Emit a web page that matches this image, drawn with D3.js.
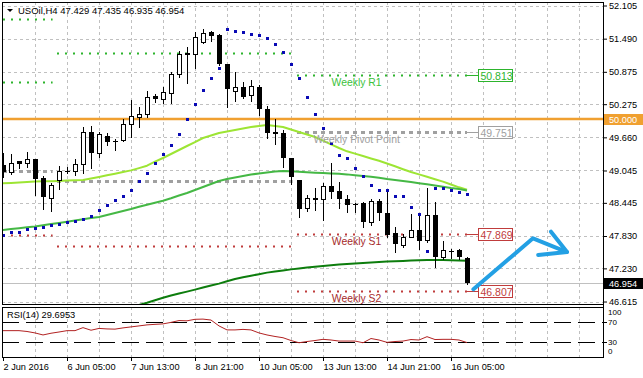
<!DOCTYPE html>
<html>
<head>
<meta charset="utf-8">
<script src="https://cdn.jsdelivr.net/npm/d3@7"></script>
<style>
  body { margin: 0; background: #fff; overflow: hidden; }
  svg { display: block; }
  text { font-family: "Liberation Sans", Arial, sans-serif; }
</style>
</head>
<body>
<div id="chart"></div>
<script>
// ---- data ----
const priceTicks = [52.105, 51.490, 50.875, 50.275, 49.660, 49.045, 48.445, 47.830, 47.230, 46.615];
const timeLabels = ["2 Jun 2016", "6 Jun 05:00", "7 Jun 13:00", "8 Jun 21:00", "10 Jun 05:00", "13 Jun 13:00", "14 Jun 21:00", "16 Jun 05:00"];

const opens = [49.147, 49.023, 49.221, 49.190, 49.253, 48.900, 48.529, 48.869, 49.041, 49.041,
  49.160, 49.753, 49.364, 49.685, 49.579, 49.611, 49.902, 50.043, 50.087, 50.427,
  50.377, 50.477, 50.829, 51.219, 51.200, 51.423, 51.608, 51.552, 51.020, 50.525,
  50.588, 50.440, 50.588, 50.185, 49.768, 49.735, 49.271, 48.869, 48.344, 48.535,
  48.511, 48.757, 48.665, 48.516, 48.418, 48.442, 48.099, 48.479, 48.251, 47.880,
  47.669, 47.817, 47.941, 47.747, 48.220, 47.435, 47.552, 47.571, 47.429];
const highs = [49.369, 49.351, 49.225, 49.388, 49.260, 48.943, 48.819, 49.134, 49.115, 49.253,
  49.846, 49.870, 49.753, 49.735, 49.635, 49.994, 50.352, 50.217, 50.519, 50.464,
  50.599, 50.877, 51.267, 51.330, 51.608, 51.664, 51.638, 51.576, 51.025, 50.877,
  50.686, 50.723, 50.631, 50.241, 49.994, 49.796, 49.277, 48.869, 48.591, 48.715,
  48.813, 49.184, 48.837, 48.591, 48.437, 48.466, 48.511, 48.511, 48.646, 48.003,
  47.867, 48.229, 48.238, 48.715, 48.466, 47.737, 47.589, 47.580, 47.435];
const lows = [48.924, 48.980, 49.097, 49.115, 48.591, 48.325, 48.299, 48.696, 49.004, 48.956,
  49.004, 49.097, 49.301, 49.518, 49.425, 49.598, 49.661, 49.846, 50.043, 50.321,
  50.302, 50.302, 50.773, 50.673, 50.951, 51.415, 51.452, 51.010, 50.228, 50.339,
  50.389, 50.339, 50.074, 49.642, 49.536, 49.115, 48.789, 48.188, 48.294, 48.312,
  48.127, 48.529, 48.344, 48.266, 48.266, 48.003, 48.034, 48.127, 47.817, 47.539,
  47.621, 47.806, 47.580, 47.724, 47.261, 47.398, 47.422, 47.406, 46.935];
const closes = [49.017, 49.190, 49.171, 49.253, 48.893, 48.548, 48.776, 49.041, 49.035, 49.160,
  49.753, 49.364, 49.716, 49.579, 49.585, 49.902, 50.056, 50.087, 50.403, 50.371,
  50.506, 50.835, 51.200, 51.181, 51.515, 51.601, 51.545, 51.015, 50.551, 50.594,
  50.414, 50.606, 50.180, 49.746, 49.731, 49.271, 48.930, 48.340, 48.529, 48.498,
  48.752, 48.652, 48.511, 48.411, 48.413, 48.095, 48.479, 48.262, 47.849, 47.676,
  47.817, 47.941, 47.743, 48.220, 47.446, 47.571, 47.560, 47.435, 46.954];

const maFast = [48.807, 48.815, 48.824, 48.832, 48.839, 48.845, 48.847, 48.852, 48.858, 48.863,
  48.869, 48.897, 48.926, 48.956, 48.986, 49.017, 49.047, 49.089, 49.134, 49.208,
  49.277, 49.351, 49.425, 49.499, 49.573, 49.648, 49.694, 49.740, 49.768, 49.796,
  49.824, 49.852, 49.870, 49.889, 49.870, 49.852, 49.805, 49.759, 49.713, 49.666,
  49.598, 49.531, 49.462, 49.401, 49.358, 49.314, 49.269, 49.225, 49.175, 49.123,
  49.069, 49.017, 48.973, 48.928, 48.884, 48.839, 48.785, 48.733, 48.690];
const maMid = [47.941, 47.958, 47.975, 47.991, 48.008, 48.030, 48.053, 48.073, 48.095, 48.118,
  48.140, 48.164, 48.184, 48.220, 48.257, 48.294, 48.331, 48.372, 48.411, 48.448,
  48.485, 48.531, 48.581, 48.628, 48.683, 48.739, 48.795, 48.850, 48.887, 48.915,
  48.943, 48.971, 48.989, 49.008, 49.026, 49.036, 49.032, 49.023, 49.013, 49.004,
  48.998, 48.991, 48.984, 48.973, 48.958, 48.943, 48.928, 48.909, 48.887, 48.869,
  48.850, 48.832, 48.810, 48.789, 48.767, 48.745, 48.720, 48.702, 48.675];
const maSlow = [null, null, null, null, null, null, null, null, null, null,
  null, null, null, null, null, null, 46.504, 46.551, 46.593, 46.640,
  46.684, 46.727, 46.764, 46.799, 46.836, 46.875, 46.912, 46.947, 46.990, 47.033,
  47.064, 47.094, 47.122, 47.151, 47.172, 47.190, 47.211, 47.229, 47.244, 47.259,
  47.274, 47.289, 47.300, 47.311, 47.320, 47.330, 47.339, 47.348, 47.355, 47.363,
  47.368, 47.374, 47.379, 47.383, 47.385, 47.385, 47.381, 47.376, 47.372];
const sar = [47.849, 47.899, 47.910, 47.955, 47.979, 48.003, 48.040, 48.058, 48.095, 48.114,
  48.145, 48.201, 48.312, 48.405, 48.498, 48.572, 48.683, 48.856, 48.993, 49.184,
  49.351, 49.518, 49.722, 49.994, 50.278, 50.538, 50.757, 50.940, 51.667, 51.632,
  51.608, 51.576, 51.554, 51.508, 51.387, 51.239, 51.020, 50.757, 50.404, 50.093,
  49.837, 49.549, 49.332, 49.271, 49.086, 48.943, 48.776, 48.683, 48.683, 48.572,
  48.572, 48.363, 48.238, 47.552, 48.720, 48.720, 48.689, 48.652, 48.609];
const rsi = [52.6, 52.6, 52.6, 51.0, 48.2, 44.3, 47.6, 50.0, 52.6, 52.6,
  58.4, 53.4, 56.9, 55.9, 55.5, 57.9, 59.8, 61.7, 63.7, 64.7,
  65.6, 68.5, 72.0, 71.5, 74.4, 74.8, 73.0, 61.7, 54.0, 54.0,
  55.0, 54.0, 48.2, 44.3, 41.4, 39.0, 33.6, 29.3, 31.7, 33.6,
  35.9, 34.6, 32.6, 32.6, 32.6, 29.3, 37.5, 34.6, 30.1, 31.7,
  32.6, 35.5, 34.6, 41.0, 35.5, 35.9, 35.9, 34.6, 29.6953];
const rsiTicks = [100, 70, 30, 0];
const rsiLevels = [70, 30];

const roundLevel = 50.000;

// weekly pivot segments (candle index span per week)
const weekFrom = [-1, 6.75, 36.75];
const weekTo = [6.2, 36.2, 58];
const pivotPrice = [51.849, 50.681, 49.036, 47.849, 51.230, 48.856, 47.645, 50.813, 49.751, 47.869, 46.807];
const pivotKind = ["R", "R", "P", "S", "R", "P", "S", "R", "P", "S", "S"];
const pivotWeek = [0, 0, 0, 0, 1, 1, 1, 2, 2, 2, 2];
const weeklyNames = ["Weekly R1", "Weekly Pivot Point", "Weekly S1", "Weekly S2"];
const weeklyPrice = [50.813, 49.751, 47.869, 46.807];
const weeklyKind = ["R", "P", "S", "S"];

// hand drawn arrow, in candle index / price
const arrowIdx = [58.8, 66.25, 70.5];
const arrowPrice = [46.842, 47.787, 47.533];
const barbIdx = [68.5, 70.5, 66.9];
const barbPrice = [47.910, 47.533, 47.478];

// ---- layout ----
const W = 643, H = 378;
const padL = 2, padR = 603, plotTop = 2, mainBottom = 304, rsiTop = 307, rsiBottom = 357;
const font = '"Liberation Sans", Arial, sans-serif';

const colors = {
  grid: "#c0c0c0",
  R: "#2db42d", P: "#a0a0a0", S: "#c03c3c",
  Rtext: "#3cc23c", Ptext: "#a0a0a0", Stext: "#a52a2a",
  orange: "#f0a030", fast: "#9de534", mid: "#45b845", slow: "#0d7d0d",
  sar: "#0a0ab4", rsi: "#b22222", arrow: "#23a0e4"
};

const x = d3.scaleLinear().domain([0, 75]).range([3, 603]);
const y = d3.scaleLinear().domain([46.569, 52.170]).range([mainBottom, plotTop]);
const yRsi = d3.scaleLinear().domain([0, 100]).range([358, 306]);
const py = v => Math.round(y(v)) + 0.5;

const svg = d3.select("#chart").append("svg")
  .attr("width", W).attr("height", H)
  .style("background", "#fff");

svg.append("clipPath").attr("id", "mainClip")
  .append("rect").attr("x", padL + 1).attr("y", plotTop + 1)
  .attr("width", padR - padL - 1).attr("height", mainBottom - plotTop - 1);

// grid
const gridIdx = d3.range(4, 75, 4);
const grid = svg.append("g").attr("stroke", colors.grid).attr("stroke-dasharray", "3,3");
grid.selectAll(".vm").data(gridIdx).join("line")
  .attr("x1", d => x(d) + 0.5).attr("x2", d => x(d) + 0.5)
  .attr("y1", plotTop).attr("y2", mainBottom);
grid.selectAll(".vr").data(gridIdx).join("line")
  .attr("x1", d => x(d) + 0.5).attr("x2", d => x(d) + 0.5)
  .attr("y1", rsiTop).attr("y2", rsiBottom);
grid.selectAll(".h").data(priceTicks).join("line")
  .attr("x1", padL).attr("x2", padR)
  .attr("y1", d => py(d)).attr("y2", d => py(d));

const plot = svg.append("g").attr("clip-path", "url(#mainClip)");

// pivot lines
plot.append("g").selectAll("line").data(pivotPrice).join("line")
  .attr("x1", (d, i) => x(weekFrom[pivotWeek[i]]))
  .attr("x2", (d, i) => x(weekTo[pivotWeek[i]]))
  .attr("y1", d => py(d)).attr("y2", d => py(d))
  .attr("stroke", (d, i) => colors[pivotKind[i]])
  .attr("stroke-width", (d, i) => pivotKind[i] === "P" ? 3 : 2)
  .attr("stroke-dasharray", (d, i) => pivotKind[i] === "P" ? "4,4" : "2,6");

// round number line
plot.append("line")
  .attr("x1", padL).attr("x2", padR)
  .attr("y1", y(roundLevel)).attr("y2", y(roundLevel))
  .attr("stroke", colors.orange).attr("stroke-width", 2.5);

// bid line
const last = closes[closes.length - 1];
plot.append("line")
  .attr("x1", padL).attr("x2", padR)
  .attr("y1", py(last)).attr("y2", py(last))
  .attr("stroke", "#c0c0c0");

// moving averages
const maLine = d3.line().defined(d => d != null).x((d, i) => x(i)).y(d => y(d));
[[maFast, colors.fast], [maMid, colors.mid], [maSlow, colors.slow]].forEach(([vals, c]) => {
  plot.append("path").datum(vals)
    .attr("fill", "none").attr("stroke", c).attr("stroke-width", 2)
    .attr("stroke-linejoin", "round").attr("d", maLine);
});

// candles
const idx = d3.range(opens.length);
const candles = plot.append("g");
candles.selectAll("line").data(idx).join("line")
  .attr("x1", i => x(i) + 0.5).attr("x2", i => x(i) + 0.5)
  .attr("y1", i => Math.round(y(highs[i]))).attr("y2", i => Math.round(y(lows[i])) + 1)
  .attr("stroke", "#000");
candles.selectAll("rect").data(idx).join("rect")
  .each(function (i) {
    const t = Math.round(y(Math.max(opens[i], closes[i])));
    const b = Math.round(y(Math.min(opens[i], closes[i])));
    const h = b - t;
    const r = d3.select(this);
    if (closes[i] < opens[i] || h < 2) {
      r.attr("x", x(i) - 2).attr("width", 5).attr("y", t).attr("height", Math.max(h, 1)).attr("fill", "#000");
    } else {
      r.attr("x", x(i) - 1.5).attr("width", 4).attr("y", t + 0.5).attr("height", h)
        .attr("fill", "#fff").attr("stroke", "#000");
    }
  });

// parabolic SAR
plot.append("g").selectAll("rect").data(sar).join("rect")
  .attr("x", (d, i) => x(i) - 1).attr("y", d => Math.round(y(d)) - 1)
  .attr("width", 3).attr("height", 3).attr("fill", colors.sar);

// weekly level labels
const labelCenter = 44.2;
svg.append("g").selectAll("text").data(weeklyNames).join("text")
  .attr("x", x(labelCenter)).attr("y", (d, i) => y(weeklyPrice[i]) + 11)
  .attr("text-anchor", "middle").attr("font-size", 10.4)
  .attr("fill", (d, i) => colors[weeklyKind[i] + "text"])
  .text(d => d);

const boxes = svg.append("g");
weeklyPrice.forEach((p, i) => {
  const c = colors[weeklyKind[i]];
  const yy = py(p);
  const bx = x(58) + 11.5;
  boxes.append("line").attr("x1", x(58)).attr("x2", bx).attr("y1", yy).attr("y2", yy).attr("stroke", c);
  boxes.append("rect").attr("x", bx).attr("y", yy - 6).attr("width", 34).attr("height", 12)
    .attr("fill", "#fff").attr("stroke", c);
  boxes.append("text").attr("x", bx + 2).attr("y", yy + 4).attr("font-size", 10.5)
    .attr("fill", c).text(d3.format(".3f")(p));
});

// arrow
const arrowLine = d3.line().x(d => x(d[0])).y(d => y(d[1]));
const arrowG = svg.append("g").attr("fill", "none").attr("stroke", colors.arrow)
  .attr("stroke-width", 4).attr("stroke-linecap", "round").attr("stroke-linejoin", "round");
arrowG.append("path").attr("d", arrowLine(d3.zip(arrowIdx, arrowPrice)));
arrowG.append("path").attr("d", arrowLine(d3.zip(barbIdx, barbPrice)));

// RSI panel
svg.append("g").selectAll("line").data(rsiLevels).join("line")
  .attr("x1", padL).attr("x2", padR)
  .attr("y1", d => Math.round(yRsi(d)) + 0.5).attr("y2", d => Math.round(yRsi(d)) + 0.5)
  .attr("stroke", "#000").attr("stroke-dasharray", "17,7");
svg.append("path").datum(rsi)
  .attr("fill", "none").attr("stroke", colors.rsi).attr("stroke-width", 1)
  .attr("d", d3.line().x((d, i) => x(i)).y(d => yRsi(d)));
svg.append("text").attr("x", 7).attr("y", 318).attr("font-size", 9.3)
  .text("RSI(14) " + d3.format(".4f")(rsi[rsi.length - 1]));

// header
svg.append("path").attr("d", "M7,9L13,9L10,12Z").attr("fill", "#000");
svg.append("text").attr("x", 18).attr("y", 14).attr("font-size", 9.5)
  .text("USOil,H4  " + [opens, highs, lows, closes].map(a => a[a.length - 1].toFixed(3)).join(" "));

// frames
svg.append("rect").attr("x", padL + 0.5).attr("y", plotTop + 0.5)
  .attr("width", padR - padL).attr("height", mainBottom - plotTop)
  .attr("fill", "none").attr("stroke", "#000");
svg.append("rect").attr("x", padL + 0.5).attr("y", rsiTop + 0.5)
  .attr("width", padR - padL).attr("height", rsiBottom - rsiTop)
  .attr("fill", "none").attr("stroke", "#000");

// price axis
const yAxis = d3.axisRight(y).tickValues(priceTicks).tickSize(4).tickPadding(2)
  .tickFormat(d3.format(".3f"));
svg.append("g").attr("transform", `translate(${padR},0)`)
  .call(yAxis)
  .call(g => g.select(".domain").remove())
  .call(g => g.selectAll("text").attr("font-size", 9.2).attr("font-family", font).attr("fill", "#000"));

// highlighted price boxes on the axis
[[roundLevel, colors.orange, "#fff"], [last, "#000", "#fff"]].forEach(([v, bg, fg]) => {
  const yy = py(v);
  svg.append("rect").attr("x", padR + 1).attr("y", yy - 5.5).attr("width", 40).attr("height", 11).attr("fill", bg);
  svg.append("text").attr("x", padR + 6).attr("y", yy + 3.5).attr("font-size", 9.2)
    .attr("fill", fg).text(d3.format(".3f")(v));
});

// RSI axis
svg.append("g").selectAll("line").data(rsiLevels).join("line")
  .attr("x1", padR).attr("x2", padR + 4)
  .attr("y1", d => Math.round(yRsi(d)) + 0.5).attr("y2", d => Math.round(yRsi(d)) + 0.5)
  .attr("stroke", "#000");
svg.append("g").selectAll("text").data(rsiTicks).join("text")
  .attr("x", padR + 5)
  .attr("y", d => d === 100 ? rsiTop + 8 : d === 0 ? rsiBottom - 3 : yRsi(d) + 3)
  .attr("font-size", 8).text(d => d);

// time axis
const xAxis = d3.axisBottom(x).tickValues(d3.range(0, 57, 8)).tickSize(4).tickPadding(2)
  .tickFormat((d, i) => timeLabels[i]);
svg.append("g").attr("transform", `translate(0,${rsiBottom})`)
  .call(xAxis)
  .call(g => g.select(".domain").remove())
  .call(g => g.selectAll("text").attr("text-anchor", "start").attr("font-size", 9.2)
    .attr("font-family", font).attr("fill", "#000"));

// right border of the chart area
svg.append("line").attr("x1", padR + 0.5).attr("x2", padR + 0.5)
  .attr("y1", plotTop).attr("y2", rsiBottom + 1).attr("stroke", "#000");
</script>
</body>
</html>
